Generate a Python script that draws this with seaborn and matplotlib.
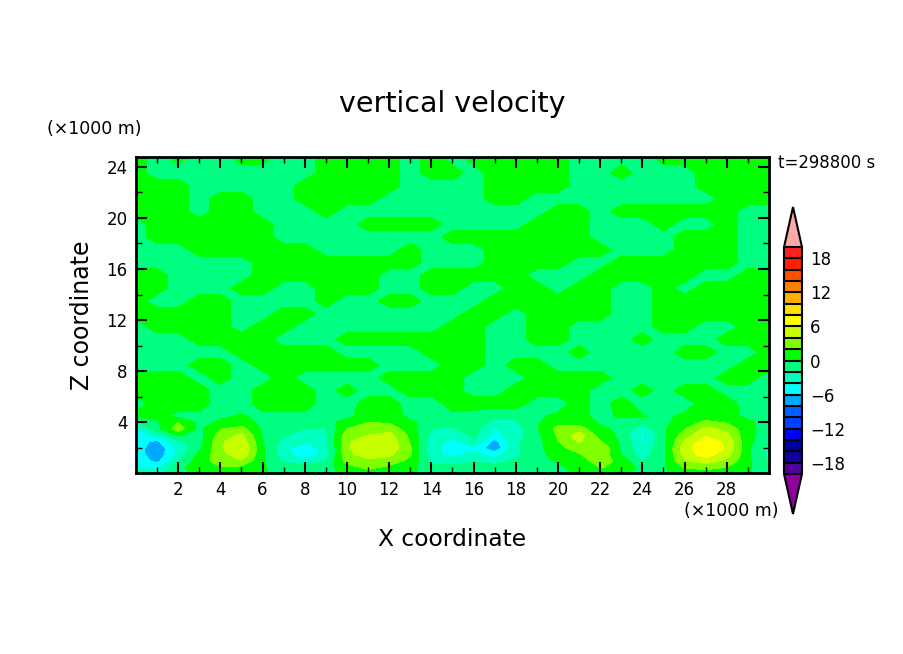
import numpy as np
import matplotlib
matplotlib.use("Agg")
import matplotlib.pyplot as plt
from matplotlib.colors import ListedColormap, BoundaryNorm
import seaborn as sns

# x grid (x1000 m)
x_km = list(range(0, 31))
# z rows, top to bottom (x1000 m)
z_km = [24.8, 23.5, 22.5, 21.5, 20.5, 19.5, 18.5, 17.5, 16.5, 15.5, 14.5, 13.5, 12.5, 11.5, 10.5,
        9.5, 8.5, 7.5, 6.5, 5.5, 4.5, 4, 3.5, 3, 2.5, 2, 1.5, 1, 0.5, 0]

# vertical velocity, one row per z
w_upper = [
    [1,-1,1,-1,-1,1,1,-1,-1,1,1,1,1,-1,1,-1, 1,1,1,1,1,-1,-1,-1,-1,1,1,1,1,1,1],
    [1,-1,-1,-1,-1,-1,-1,-1,-1,1,1,1,1,-1,1,1, -1,1,1,1,1,-1,-1,1,-1,-1,-1,1,1,1,1],
    [1,1,1,-1,-1,-1,-1,-1,1,1,1,1,1,-1,-1,-1, -1,1,1,1,1,-1,-1,-1,-1,-1,-1,1,1,1,1],
    [1,1,1,-1,1,1,-1,-1,1,1,1,1,-1,-1,-1,-1, -1,1,1,-1,-1,-1,-1,-1,-1,-1,-1,-1,1,1,1],
    [1,1,1,-1,1,1,-1,-1,-1,1,-1,-1,-1,-1,-1,-1, -1,-1,-1,-1,1,1,-1,1,1,1,1,1,1,-1,-1],
    [-1,1,1,1,1,1,1,-1,-1,-1,-1,1,1,1,1,-1, -1,-1,-1,1,1,1,-1,-1,-1,1,-1,-1,1,-1,-1],
    [-1,1,1,1,1,1,1,-1,-1,-1,-1,-1,-1,-1,-1,1, 1,1,1,1,1,1,-1,-1,-1,-1,1,1,1,-1,-1],
    [-1,-1,-1,1,1,1,1,1,1,-1,-1,-1,-1,1,-1,-1, -1,1,1,1,1,1,1,-1,-1,-1,1,1,1,-1,-1],
    [-1,-1,-1,-1,-1,-1,1,1,1,1,1,1,1,1,-1,-1, -1,1,1,1,1,-1,-1,1,1,1,1,1,1,-1,-1],
    [1,1,-1,-1,-1,-1,1,1,1,1,1,1,-1,-1,1,1, 1,1,1,-1,-1,-1,1,1,1,1,1,-1,-1,1,1],
    [1,1,-1,-1,-1,1,1,-1,-1,1,1,1,-1,-1,1,1, -1,-1,1,1,-1,1,1,-1,-1,1,-1,1,1,1,1],
    [1,-1,-1,1,1,-1,-1,-1,-1,1,-1,-1,1,1,-1,-1, -1,1,1,1,1,1,1,-1,-1,1,1,1,1,1,1],
    [1,1,1,1,1,-1,-1,1,1,-1,-1,-1,-1,-1,-1,-1, 1,1,-1,1,1,1,1,-1,-1,1,1,1,1,1,1],
    [-1,1,1,1,1,-1,1,1,-1,-1,-1,-1,-1,-1,-1,1, 1,-1,-1,1,1,-1,-1,-1,-1,1,1,-1,-1,1,1],
    [-1,-1,-1,1,1,1,1,-1,-1,-1,1,1,1,1,1,1, 1,-1,-1,1,1,-1,-1,-1,1,-1,-1,-1,1,1,1],
    [-1,-1,-1,-1,-1,1,1,1,1,1,-1,-1,-1,-1,1,1, 1,-1,-1,-1,-1,1,-1,-1,-1,-1,1,1,-1,-1,1],
    [-1,-1,-1,1,1,-1,1,1,1,1,1,1,-1,-1,-1,1, 1,-1,1,1,-1,-1,-1,-1,-1,-1,-1,-1,-1,1,1],
    [1,1,1,-1,1,-1,-1,1,-1,-1,-1,-1,1,1,1,1, -1,-1,-1,1,1,1,1,-1,-1,-1,-1,-1,1,1,-1],
    [1,1,1,1,-1,-1,1,1,1,-1,1,-1,-1,1,1,1, -1,-1,1,1,1,1,-1,-1,1,-1,1,1,-1,-1,-1],
    [-1,1,1,1,-1,-1,1,1,1,-1,-1,1,1,-1,-1,1, 1,1,1,-1,-1,1,-1,1,-1,-1,-1,1,1,-1,-1],
]
w_lower = [
    [.5,.5,-.5,-.5,-.3,.2,-.5,-.5,-.5,-.5,-.3,.6,.6,-.3,-.5,-.5, -.8,-1.5,-1.5,-.3,.4,.4,-.4,.2,.1,-.4,.4,.9,.5,-.3,-.5],
    [-2.2,-.3,2,-.5,.3,1,-.5,-.4,-.3,-.4,.5,2,1.8,.3,-.8,-1.2, -.8,-2.6,-2.3,-.3,1.5,1,-.2,-.5,-1.5,-.5,1,2.5,1.8,.3,-.5],
    [-4.5,-.5,3,-.5,1.9,2.6,-.3,-.7,-2.1,-2.1,2,3.2,3.2,.8,-2.1,-2.3, -1,-4.2,-2.9,-.2,2.6,3,.3,-.3,-3.5,-.3,1.8,4.5,3.5,.5,-.8],
    [-5,-3.5,.2,-.8,2.8,4.5,-.2,-1.8,-2.8,-2.3,3.2,4,4.8,1.5,-2.6,-3.5, -1.5,-4.5,-3,-.6,2.3,5,1,-.5,-4.5,-.5,3,5.8,4.5,.4,-.8],
    [-5.2,-6.5,-2.5,-.8,3.6,5.5,.1,-2.6,-3.6,-2.4,3.7,5.1,5.5,1.8,-2.9,-4.5, -2.5,-6.8,-2.5,-.7,1.9,4.2,2.2,-.4,-4.2,-.5,4.2,7,5.5,.4,-1.2],
    [-4.9,-7.6,-3.5,-.5,3.6,6.1,.3,-3.2,-5.5,-3,3.8,5.3,5.5,2.2,-3.3,-5, -4.5,-7.5,-2.3,-.8,1.5,2.8,4,-.3,-3.5,-.5,5.2,7.5,5.8,.4,-2.4],
    [-4.8,-7.6,-3.2,.5,3.2,5.5,.3,-3,-5.5,-3,3.5,5,4.5,2.2,-3.3,-4.6, -3.5,-4.8,-2.5,-.8,1,1.8,3.5,-.1,-3,-.5,4.8,7,4.8,.4,-2.5],
    [-4.6,-6.7,-2.2,1,3,3.9,.2,-2.4,-3.5,-2,2.8,3.5,3,1.5,-2.5,-3, -2.2,-3.3,-1.5,-.8,.2,1,3,1.3,-2.2,-.4,3.8,5,3.6,.4,-2.3],
    [-4,-4.5,-1,1.8,1.9,1.5,.2,-1,-1.2,-.8,1.2,2.5,1.6,.8,-1.5,-1.5, -.8,-1,-.7,-.8,-.3,.5,2.1,1.5,-.8,-.3,2.2,2.6,2,.3,-1.5],
    [-3,-2.5,-.5,.5,.5,.6,.2,-.5,-.6,-.4,.3,1,.7,.3,-.8,-.7, -.4,-.5,-.3,-.5,-.3,.2,.8,.3,-.4,-.2,.5,1,.7,.2,-1],
]

levels = list(range(-20, 21, 2))
band_colors = ["#5000a0", "#1000a0", "#0000a0", "#0000ff", "#0040ff", "#0060ff", "#00a8ff",
               "#00ffff", "#00ffc0", "#00ff80", "#00ff00", "#80ff00", "#c8ff00", "#ffff00",
               "#ffe000", "#ffb000", "#ff8000", "#ff5000", "#ff2000", "#ff2020"]
under_color = "#9000a0"
over_color = "#ffa8a8"
x_ticks = list(range(2, 29, 2))
z_ticks = list(range(4, 25, 4))
cbar_ticks = [-18, -12, -6, 0, 6, 12, 18]

sns.set_style("ticks")
plt.rcParams['font.family'] = ['DejaVu Sans']
plt.rcParams['text.color'] = 'black'
plt.rcParams['axes.axisbelow'] = False

W, H = 904, 654


def px_text(x, y, s, **kw):
    # position given in pixels of the picture
    return fig.text(x / W, 1 - y / H, s, **kw)


fig = plt.figure(figsize=(W / 100, H / 100), dpi=100)
ax = fig.add_axes([136 / W, 1 - 473 / H, 633 / W, 316 / H])

cmap = ListedColormap(band_colors)
cmap.set_under(under_color)
cmap.set_over(over_color)
norm = BoundaryNorm(levels, cmap.N)

w = np.array(w_upper + w_lower, dtype=float)
cf = ax.contourf(x_km, z_km, w, levels=levels, cmap=cmap, norm=norm, extend='both', antialiased=False)

ax.set_xlim(0, 30)
ax.set_ylim(0.05, 24.75)
ax.set_xticks(x_ticks)
ax.set_yticks(z_ticks)
ax.set_xticks(range(1, 30, 2), minor=True)
ax.set_yticks(range(2, 25, 4), minor=True)
ax.tick_params(which='major', direction='in', length=8, width=1.5, top=True, right=True,
               labelsize=12, colors='black', pad=6)
ax.tick_params(which='minor', direction='in', length=4, width=1, top=True, right=True, colors='black')
for sp in ax.spines.values():
    sp.set_linewidth(2)
    sp.set_color('black')
    sp.set_visible(True)

# extends are drawn inside the colorbar axes, so it spans tip to tip
cax = fig.add_axes([784 / W, 1 - 514 / H, 18 / W, 307 / H])
cb = fig.colorbar(cf, cax=cax, extend='both', extendfrac=0.177, drawedges=True, spacing='proportional')
cb.set_ticks(cbar_ticks)
cb.minorticks_off()
cb.ax.tick_params(length=0, labelsize=12, pad=6, colors='black')
cb.outline.set_linewidth(1.5)
cb.outline.set_edgecolor('black')
cb.dividers.set_linewidth(1.5)
cb.dividers.set_color('black')

px_text(452, 104, "vertical velocity", fontsize=20.5, ha='center', va='center')
px_text(452, 539, "X coordinate", fontsize=16.8, ha='center', va='center')
px_text(82, 315, "Z coordinate", fontsize=17, ha='center', va='center', rotation=90)
px_text(47, 129, "(×1000 m)", fontsize=12.5, ha='left', va='center')
px_text(684, 511, "(×1000 m)", fontsize=12.5, ha='left', va='center')
px_text(778, 163, "t=298800 s", fontsize=11.9, ha='left', va='center')

fig.savefig("out.png", dpi=100)
